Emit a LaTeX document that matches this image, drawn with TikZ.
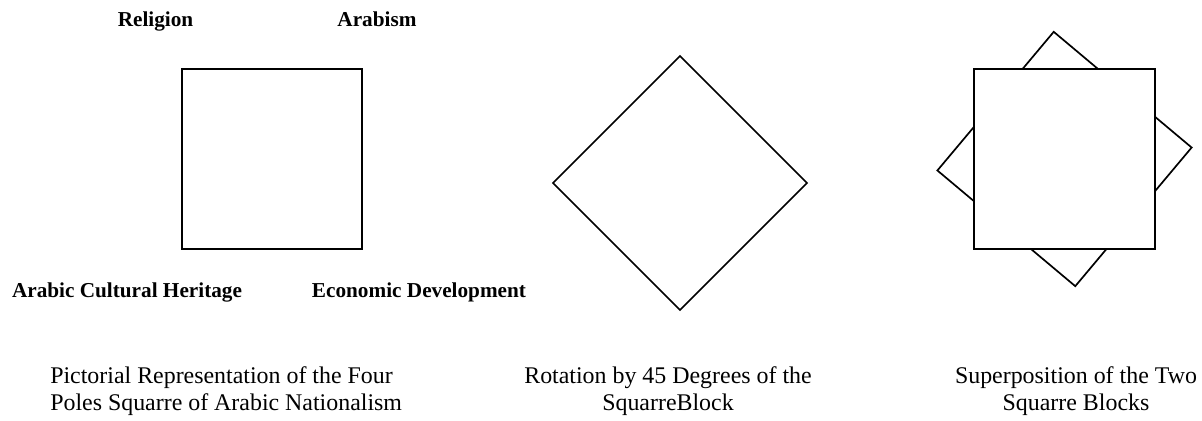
\documentclass[tikz,border=0pt]{standalone}
\usepackage{fontspec}
\setmainfont{Liberation Serif}

\begin{document}
\begin{tikzpicture}[
		pole/.style={font=\fontsize{15.1}{18}\selectfont\bfseries, inner sep=0pt, anchor=base},
		caption/.style={font=\fontsize{17}{19.2}\selectfont, inner sep=0pt},
		block/.style={line width=1.2pt}
	]
			
			\useasboundingbox (0,0) rectangle (30.05,10.5);
			
			% FIRST SQUARE (four poles)
			\draw[block] (4.55,4.275) rectangle (9.05,8.775);
			
			% Pole labels
			\node[pole] (religion) at (3.8875,9.825) {Religion};
			\node[pole] (arabism) at (9.425,9.825) {Arabism};
			\node[pole] (heritage) at (3.175,3.075) {Arabic Cultural Heritage};
			\node[pole] (economy) at (10.475,3.075) {Economic Development};
			
			% ROTATED SQUARE (45 degrees)
			\draw[block, rotate around={45:(17,5.925)}] (14.755,3.68) rectangle (19.245,8.17);
			
			% SUPERPOSITION (rotated block behind, upright block on top)
			\draw[block, rotate around={50:(26.6125,6.525)}] (24.35,4.275) rectangle (28.875,8.775);
			\draw[block, fill=white] (24.35,4.275) rectangle (28.875,8.775);
			
			% Captions
			\node[caption, align=left, anchor=north west] (cap1) at (1.25,1.3325) {Pictorial Representation of the Four\\Poles Squarre of Arabic Nationalism};
			\node[caption, align=center, anchor=north] (cap2) at (16.7,1.3325) {Rotation by 45 Degrees of the\\SquarreBlock};
			\node[caption, align=center, anchor=north] (cap3) at (26.9,1.3325) {Superposition of the Two\\Squarre Blocks};
			
		\end{tikzpicture}
\end{document}
